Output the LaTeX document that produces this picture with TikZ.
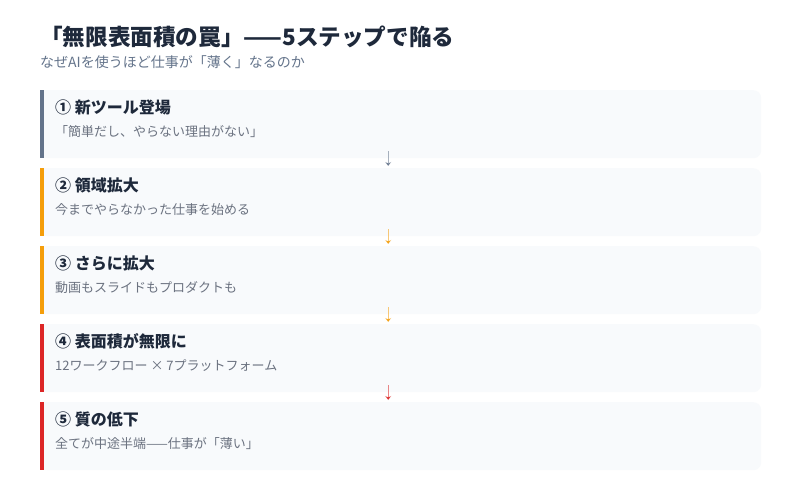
\documentclass[tikz,border=0pt]{standalone}
\usepackage{fontspec}
\setmainfont{Noto Sans CJK JP}
\usetikzlibrary{arrows.meta}
\definecolor{titlec}{HTML}{1E293B}
\definecolor{subc}{HTML}{64748B}
\definecolor{descc}{HTML}{6B7280}
\definecolor{boxc}{HTML}{F8FAFC}
\definecolor{grayc}{HTML}{64748B}
\definecolor{amberc}{HTML}{F59E0B}
\definecolor{redc}{HTML}{DC2626}
\tikzset{
  stepbox/.style={fill=boxc, draw=none, minimum width=721pt, minimum height=68pt, inner sep=0pt, anchor=north west,
    rounded corners=8pt},
  steptitle/.style={anchor=base west, inner sep=0pt, font=\fontsize{16}{19}\selectfont\bfseries, text=titlec},
  stepdesc/.style={anchor=base west, inner sep=0pt, font=\fontsize{13}{16}\selectfont, text=descc},
  flowarr/.style={line width=1.3pt, draw opacity=0.55, -{Stealth[length=4pt,width=6pt]}},
}
\begin{document}
\begin{tikzpicture}[x=1pt,y=-1pt]
\useasboundingbox[fill=white] (0,0) rectangle (800,500);
\node[anchor=base west, inner sep=0pt, font=\fontsize{22.6}{26}\selectfont\bfseries, text=titlec] (title) at (40,45.5) {「無限表面積の罠」——5ステップで陥る};
\node[anchor=base west, inner sep=0pt, font=\fontsize{14}{17}\selectfont, text=subc] (sub) at (40,67.5) {なぜAIを使うほど仕事が「薄く」なるのか};

\foreach \i/\y/\c/\t/\d in {
  1/90/grayc/{① 新ツール登場}/{「簡単だし、やらない理由がない」},
  2/168/amberc/{② 領域拡大}/{今までやらなかった仕事を始める},
  3/246/amberc/{③ さらに拡大}/{動画もスライドもプロダクトも},
  4/324/redc/{④ 表面積が無限に}/{12ワークフロー × 7プラットフォーム},
  5/402/redc/{⑤ 質の低下}/{全てが中途半端——仕事が「薄い」}
}{
  \node[stepbox] (b\i) at (40,\y) {};
  \fill[boxc] (40,\y) rectangle (60,\y+68);
  \fill[\c] (40,\y) rectangle (44,\y+68);
  \node[steptitle] (t\i) at (55,\y+23.5) {\t};
  \node[stepdesc] (d\i) at (55,\y+46) {\d};
}

\draw[flowarr, grayc] ([xshift=-12.5pt,yshift=7pt]b1.south) -- ([xshift=-12.5pt,yshift=2pt]b2.north);
\draw[flowarr, amberc] ([xshift=-12.5pt,yshift=7pt]b2.south) -- ([xshift=-12.5pt,yshift=2pt]b3.north);
\draw[flowarr, amberc] ([xshift=-12.5pt,yshift=7pt]b3.south) -- ([xshift=-12.5pt,yshift=2pt]b4.north);
\draw[flowarr, redc] ([xshift=-12.5pt,yshift=7pt]b4.south) -- ([xshift=-12.5pt,yshift=2pt]b5.north);
\end{tikzpicture}
\end{document}
